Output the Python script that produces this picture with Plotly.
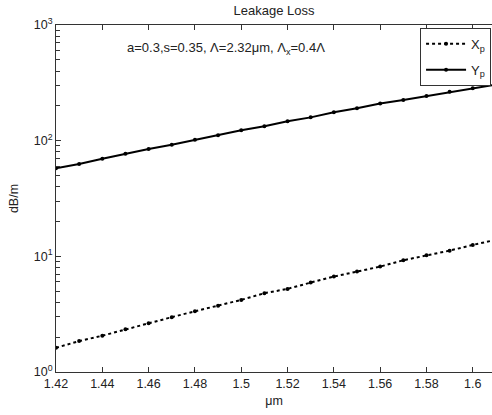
import plotly.graph_objects as go

wavelength = [1.42, 1.43, 1.44, 1.45, 1.46, 1.47, 1.48, 1.49, 1.50, 1.51,
              1.52, 1.53, 1.54, 1.55, 1.56, 1.57, 1.58, 1.59, 1.60, 1.61]
loss_xp = [1.62, 1.85, 2.06, 2.34, 2.64, 2.98, 3.35, 3.73, 4.20, 4.80,
           5.23, 5.93, 6.68, 7.38, 8.15, 9.25, 10.2, 11.2, 12.55, 13.9]
loss_yp = [57.7, 62.9, 69.9, 77.2, 84.8, 92.3, 102, 111.4, 123, 133,
           147, 159, 176, 190.5, 210, 225, 243, 265, 284, 305]

x_tickvals = [1.42, 1.44, 1.46, 1.48, 1.50, 1.52, 1.54, 1.56, 1.58, 1.60]
x_ticktext = ["1.42", "1.44", "1.46", "1.48", "1.5", "1.52", "1.54", "1.56", "1.58", "1.6"]
y_tickvals = [1, 10, 100, 1000]
y_ticktext = ["10<sup>0</sup>", "10<sup>1</sup>", "10<sup>2</sup>", "10<sup>3</sup>"]

font = dict(family="Liberation Sans, Arial, sans-serif", size=12.5, color="#222")

fig = go.Figure()
fig.add_trace(go.Scatter(
    x=wavelength, y=loss_xp, mode="lines+markers", name="X<sub>p</sub>",
    legendgroup="xp",
    line=dict(color="black", width=2, dash="dot"),
    marker=dict(color="black", size=4, symbol="circle"),
))
fig.add_trace(go.Scatter(
    x=wavelength, y=loss_yp, mode="lines+markers", name="Y<sub>p</sub>",
    legendgroup="yp",
    line=dict(color="black", width=2),
    marker=dict(color="black", size=4, symbol="circle"),
))

fig.update_layout(
    width=492, height=415,
    margin=dict(l=56, r=0, t=25, b=43),
    paper_bgcolor="white", plot_bgcolor="white",
    font=font,
    title=dict(text="Leakage Loss", x=0.557, xanchor="center", y=0.975, yanchor="middle",
               font=dict(size=13, color="#222")),
    showlegend=True,
    legend=dict(x=0.835, xanchor="left", y=0.992, yanchor="top",
                bgcolor="white", bordercolor="#333", borderwidth=1,
                font=dict(size=13, color="#222"), itemwidth=40,
                tracegroupgap=6),
    annotations=[dict(
        text="a=0.3,s=0.35, Λ=2.32μm, Λ<sub>x</sub>=0.4Λ",
        xref="paper", yref="paper", x=0.158, y=0.932,
        xanchor="left", yanchor="middle", showarrow=False,
        font=dict(size=13, color="#222"),
    )],
)

fig.update_xaxes(
    range=[1.42, 1.6083], tickvals=x_tickvals, ticktext=x_ticktext,
    ticks="inside", ticklen=5, tickcolor="#333",
    showline=True, linecolor="#333", linewidth=1, mirror="ticks",
    showgrid=False, zeroline=False,
    title=dict(text="μm", font=dict(size=12.5, color="#222"), standoff=6),
)
fig.update_yaxes(
    type="log", range=[0, 3], tickvals=y_tickvals, ticktext=y_ticktext,
    ticks="inside", ticklen=5, tickcolor="#333",
    showline=True, linecolor="#333", linewidth=1, mirror=False,
    showgrid=False, zeroline=False,
    minor=dict(ticks="inside", ticklen=4, tickcolor="#333", dtick="D1", showgrid=False),
    title=dict(text="dB/m", font=dict(size=12.5, color="#222"), standoff=12),
)

fig.write_html("out.html", config={"displayModeBar": False},
               post_script="document.body.style.margin='0';")
